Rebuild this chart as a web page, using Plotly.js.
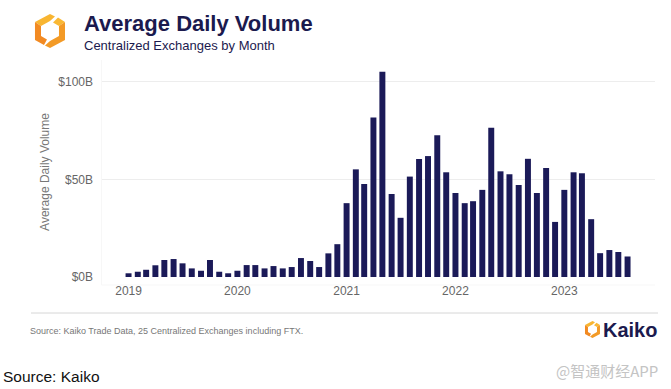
<!DOCTYPE html>
<html>
<head>
<meta charset="utf-8">
<script src="https://cdn.plot.ly/plotly-3.0.1.min.js"></script>
<style>
  html, body { margin: 0; padding: 0; background: #ffffff; }
  #chart { width: 671px; height: 389px; }
</style>
</head>
<body>
<div id="chart"></div>
<script>
// ---- Data ----
const months = [
  "2019-01-01","2019-02-01","2019-03-01","2019-04-01","2019-05-01","2019-06-01",
  "2019-07-01","2019-08-01","2019-09-01","2019-10-01","2019-11-01","2019-12-01",
  "2020-01-01","2020-02-01","2020-03-01","2020-04-01","2020-05-01","2020-06-01",
  "2020-07-01","2020-08-01","2020-09-01","2020-10-01","2020-11-01","2020-12-01",
  "2021-01-01","2021-02-01","2021-03-01","2021-04-01","2021-05-01","2021-06-01",
  "2021-07-01","2021-08-01","2021-09-01","2021-10-01","2021-11-01","2021-12-01",
  "2022-01-01","2022-02-01","2022-03-01","2022-04-01","2022-05-01","2022-06-01",
  "2022-07-01","2022-08-01","2022-09-01","2022-10-01","2022-11-01","2022-12-01",
  "2023-01-01","2023-02-01","2023-03-01","2023-04-01","2023-05-01","2023-06-01",
  "2023-07-01","2023-08-01"
];
// Average daily volume, billions USD
const volumeB = [
  1.9, 2.7, 3.7, 6.0, 8.7, 9.2, 7.0, 4.4, 3.2, 8.7, 2.7, 1.9,
  3.2, 6.1, 6.1, 4.4, 5.6, 4.4, 5.1, 9.7, 8.2, 5.1, 12.1, 16.8,
  37.8, 55.1, 47.6, 81.6, 105.1, 42.5, 30.3, 51.4, 60.4, 61.9, 72.6, 53.6,
  43.0, 37.8, 38.8, 44.6, 76.4, 54.1, 52.6, 47.1, 60.5, 43.0, 55.8, 28.2,
  44.6, 53.6, 53.1, 29.6, 12.2, 13.8, 12.8, 10.5
];
const yTickVals = [0, 50, 100];
const yTickText = ["$0B", "$50B", "$100B"];
const xTickVals = ["2019-01-01","2020-01-01","2021-01-01","2022-01-01","2023-01-01"];
const xTickText = ["2019","2020","2021","2022","2023"];

const titleText = "Average Daily Volume";
const subtitleText = "Centralized Exchanges by Month";
const yAxisTitle = "Average Daily Volume";
const noteText = "Source: Kaiko Trade Data, 25 Centralized Exchanges including FTX.";
const sourceText = "Source: Kaiko";
const brandText = "Kaiko";
const watermarkText = "@智通财经APP";

// ---- Layout geometry ----
const W = 671, H = 389;
const M = { l: 102, r: 16, t: 67, b: 112 };
const PW = W - M.l - M.r, PH = H - M.t - M.b;
const fx = x => (x - M.l) / PW;
const fy = y => (H - M.b - y) / PH;
function path(pts) {
  return 'M ' + pts.map(p => fx(p[0]).toFixed(4) + ',' + fy(p[1]).toFixed(4)).join(' L ') + ' Z';
}
// Kaiko hexagon logo: two interlocking halves (unit frame 30 x 34)
function logoShapes(ox, oy, s) {
  const T = p => [ox + p[0] * s, oy + p[1] * s];
  const leftTop = [[15,0],[20,2.5],[15,7],[6,12],[0,8]].map(T);
  const leftSide = [[0,8],[6,12],[6,22],[12,25.5],[9,31],[0,26]].map(T);
  const rightTop = [[23,3.5],[30,8],[24,12],[18,8.5]].map(T);
  const rightSide = [[30,8],[30,26],[15,34],[10,31.5],[15,27],[24,22],[24,12]].map(T);
  const mk = (pts, c) => ({ type: 'path', xref: 'paper', yref: 'paper', path: path(pts), fillcolor: c, line: { width: 0 } });
  return [mk(leftTop, '#F8B531'), mk(leftSide, '#F28A22'), mk(rightTop, '#F9B834'), mk(rightSide, '#F39A26')];
}

const font = "Liberation Sans, Arial, Helvetica, sans-serif";

const trace = {
  type: 'bar',
  x: months,
  y: volumeB,
  width: 20 * 86400000,
  marker: { color: '#1b1a58', line: { width: 0 } },
  hoverinfo: 'x+y'
};

const shapes = [
  // faint panel edges
  { type: 'line', xref: 'paper', yref: 'paper', x0: fx(101.5), x1: fx(101.5), y0: fy(60), y1: fy(285),
    line: { color: '#f7f7f7', width: 1 }, layer: 'below' },
  { type: 'line', xref: 'paper', yref: 'paper', x0: fx(101.5), x1: fx(655), y0: fy(285), y1: fy(285),
    line: { color: '#f7f7f7', width: 1 }, layer: 'below' },
  // footer separator
  { type: 'line', xref: 'paper', yref: 'paper', x0: fx(31), x1: fx(658), y0: fy(313), y1: fy(313),
    line: { color: '#d6d6d6', width: 1 } }
].concat(logoShapes(35, 14, 1.0)).concat(logoShapes(585, 321, 0.5));

const ann = (x, y, text, size, color, opts) => Object.assign({
  xref: 'paper', yref: 'paper', x: fx(x), y: fy(y), text: text, showarrow: false,
  xanchor: 'left', yanchor: 'middle', font: { family: font, size: size, color: color }
}, opts || {});

const layout = {
  width: W, height: H,
  margin: M,
  paper_bgcolor: '#ffffff',
  plot_bgcolor: '#ffffff',
  showlegend: false,
  xaxis: {
    type: 'date',
    range: ['2018-10-04', '2023-11-01'],
    tickvals: xTickVals,
    ticktext: xTickText,
    showgrid: false,
    zeroline: false,
    showline: false,
    ticks: '',
    ticklabelstandoff: 5,
    tickfont: { family: font, size: 12, color: '#666666' },
    fixedrange: true
  },
  yaxis: {
    range: [0, 107.5],
    tickvals: yTickVals,
    ticktext: yTickText,
    showgrid: true,
    gridcolor: '#ededed',
    gridwidth: 1,
    zeroline: false,
    showline: false,
    ticks: '',
    ticklabelstandoff: 8,
    tickfont: { family: font, size: 12, color: '#666666' },
    title: { text: yAxisTitle, font: { family: font, size: 12, color: '#777777' }, standoff: 6 },
    fixedrange: true
  },
  shapes: shapes,
  annotations: [
    ann(82, 23, '<b>' + titleText + '</b>', 22, '#1b1a4e'),
    ann(82, 45.5, subtitleText, 13, '#1b1a4e'),
    ann(28, 331, noteText, 9, '#777777'),
    ann(601, 330, '<b>' + brandText + '</b>', 20, '#1b1a4e'),
    ann(1, 376, sourceText, 15.5, '#111111'),
    ann(554, 370, watermarkText, 15, '#c4c4c4', { font: { family: "Noto Sans CJK SC, " + font, size: 15, color: '#c4c4c4' } })
  ]
};

Plotly.newPlot('chart', [trace], layout, { displayModeBar: false, staticPlot: true });
</script>
</body>
</html>
